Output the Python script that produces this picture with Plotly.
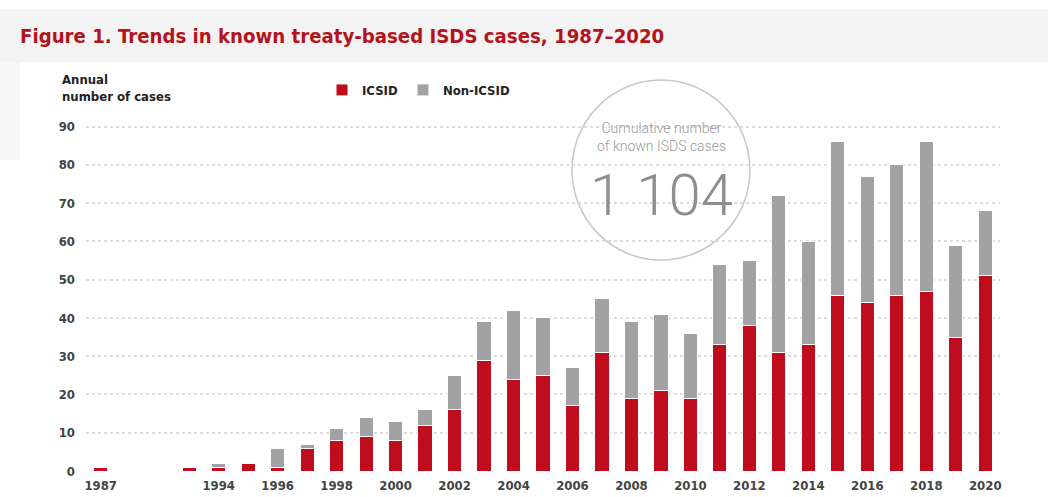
import plotly.graph_objects as go

# ---- data ----
years = ["1987", " ", "  ", "1993", "1994", "1995", "1996", "1997", "1998", "1999",
         "2000", "2001", "2002", "2003", "2004", "2005", "2006", "2007", "2008", "2009",
         "2010", "2011", "2012", "2013", "2014", "2015", "2016", "2017", "2018", "2019", "2020"]
icsid = [1, None, None, 1, 1, 2, 1, 6, 8, 9,
         8, 12, 16, 29, 24, 25, 17, 31, 19, 21,
         19, 33, 38, 31, 33, 46, 44, 46, 47, 35, 51]
non_icsid = [0, None, None, 0, 1, 0, 5, 1, 3, 5,
             5, 4, 9, 10, 18, 15, 10, 14, 20, 20,
             17, 21, 17, 41, 27, 40, 33, 34, 39, 24, 17]
tick_years = ["1987", "1994", "1996", "1998", "2000", "2002", "2004", "2006", "2008",
              "2010", "2012", "2014", "2016", "2018", "2020"]
y_ticks = [0, 10, 20, 30, 40, 50, 60, 70, 80, 90]
cumulative = "1 104"

# ---- geometry ----
W, H = 1048, 497
ML, MR, MT, MB = 86, 48, 115, 26
PW, PH = W - ML - MR, H - MT - MB


def px(x):
    return (x - ML) / PW


def py(y):
    return (H - MB - y) / PH


RED = "#c00d1e"
GREY = "#a2a2a4"
FONT = "Liberation Sans Narrow, DejaVu Sans Condensed, Roboto, sans-serif"

fig = go.Figure()
fig.add_trace(go.Bar(x=years, y=icsid, name="ICSID", marker=dict(color=RED, line=dict(color="white", width=1))))
fig.add_trace(go.Bar(x=years, y=non_icsid, name="Non-ICSID", marker=dict(color=GREY, line=dict(color="white", width=1))))

fig.update_layout(
    width=W, height=H,
    margin=dict(l=ML, r=MR, t=MT, b=MB),
    barmode="stack", bargap=0.52,
    plot_bgcolor="white", paper_bgcolor="white",
    font=dict(family=FONT, color="#333333", size=13),
    showlegend=True,
    legend=dict(orientation="h", x=px(322), y=py(90), xanchor="left", yanchor="middle",
                font=dict(family=FONT, size=13, color="#222222", weight="bold"),
                bgcolor="rgba(0,0,0,0)", itemwidth=30, traceorder="normal"),
    xaxis=dict(type="category", categoryorder="array", categoryarray=years,
               tickvals=tick_years, ticktext=tick_years, showgrid=False, showline=False,
               zeroline=False, ticks="", ticklabelstandoff=5, automargin=False,
               tickfont=dict(family=FONT, size=13, color="#444444", weight="bold")),
    yaxis=dict(range=[0, PH / 3.826], tickvals=y_ticks, showgrid=True, gridcolor="#dcdcdc",
               griddash="dot", gridwidth=1.5, zeroline=False, showline=False, ticks="",
               ticklabelstandoff=10, automargin=False,
               tickfont=dict(family=FONT, size=13, color="#444444", weight="bold")),
)

# header band
fig.add_shape(type="rect", xref="paper", yref="paper", x0=px(0), x1=px(W), y0=py(62), y1=py(9),
              fillcolor="#f3f3f3", line=dict(width=0), layer="below")
fig.add_shape(type="rect", xref="paper", yref="paper", x0=px(0), x1=px(20), y0=py(160), y1=py(62),
              fillcolor="#f7f7f7", line=dict(width=0), layer="below")

# title
fig.add_annotation(text="Figure 1. Trends in known treaty-based ISDS cases, 1987\u20132020",
                   xref="paper", yref="paper", x=px(18), y=py(36), xanchor="left", yanchor="middle",
                   showarrow=False, font=dict(family=FONT, size=20.2, color="#b3141c", weight="bold"))
# y axis title
fig.add_annotation(text="Annual<br>number of cases", xref="paper", yref="paper",
                   x=px(60), y=py(88), xanchor="left", yanchor="middle", align="left",
                   showarrow=False, font=dict(family=FONT, size=13, color="#222222", weight="bold"))

# circle
fig.add_shape(type="circle", xref="paper", yref="paper", x0=px(572), x1=px(750), y0=py(260), y1=py(80),
              fillcolor="white", line=dict(color="#c8c8c8", width=1.5), layer="between")
fig.add_annotation(text="Cumulative number<br>of known ISDS cases", xref="paper", yref="paper",
                   x=px(661), y=py(137), xanchor="center", yanchor="middle", align="center",
                   showarrow=False, font=dict(family="Roboto", size=14, color="#9a9a9a", weight=300))
fig.add_annotation(text=cumulative, xref="paper", yref="paper",
                   x=px(661), y=py(195), xanchor="center", yanchor="middle",
                   showarrow=False, font=dict(family="Roboto", size=58, color="#8e8e8e", weight=300))

fig.write_html("out.html")
